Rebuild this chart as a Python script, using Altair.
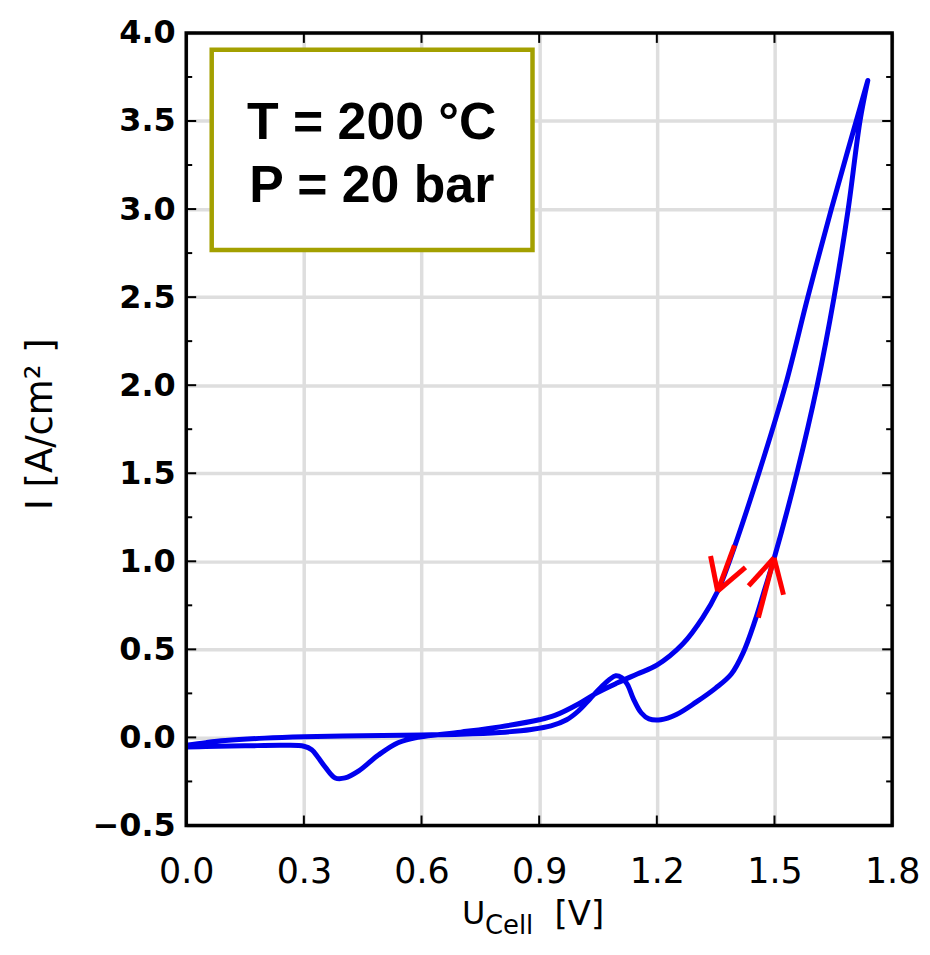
import altair as alt
import pandas as pd

# ---------------- data ----------------
x_ticks = [0.0, 0.3, 0.6, 0.9, 1.2, 1.5, 1.8]
y_ticks = [-0.5, 0.0, 0.5, 1.0, 1.5, 2.0, 2.5, 3.0, 3.5, 4.0]
y_minor = [-0.25, 0.25, 0.75, 1.25, 1.75, 2.25, 2.75, 3.25, 3.75]

# anodic (forward) sweep
up_u = [0.00, 0.05, 0.10, 0.20, 0.30, 0.45, 0.60, 0.70, 0.80, 0.88, 0.93, 0.97,
        1.00, 1.03, 1.06, 1.08, 1.095, 1.11, 1.125, 1.14, 1.16, 1.18, 1.21, 1.25,
        1.30, 1.35, 1.39, 1.42, 1.45, 1.475, 1.497, 1.557, 1.609, 1.652, 1.688,
        1.718, 1.738]
up_i = [-0.045, -0.03, -0.018, -0.004, 0.004, 0.010, 0.014, 0.018, 0.028, 0.045,
        0.065, 0.10, 0.15, 0.22, 0.29, 0.33, 0.35, 0.34, 0.30, 0.22, 0.14, 0.105,
        0.10, 0.13, 0.20, 0.28, 0.36, 0.48, 0.66, 0.84, 1.00, 1.50, 2.00, 2.50,
        3.00, 3.50, 3.73]

# cathodic (backward) sweep
down_u = [1.738, 1.645, 1.585, 1.528, 1.460, 1.385, 1.355, 1.317, 1.266, 1.20,
          1.15, 1.10, 1.045, 1.00, 0.94, 0.90, 0.80, 0.70, 0.59, 0.54, 0.49,
          0.44, 0.405, 0.38, 0.355, 0.335, 0.32, 0.30, 0.25, 0.15, 0.05, 0.0]
down_i = [3.73, 3.00, 2.50, 2.00, 1.50, 1.00, 0.83, 0.68, 0.53, 0.41, 0.36,
          0.31, 0.25, 0.19, 0.125, 0.10, 0.06, 0.03, 0.0, -0.03, -0.10, -0.19,
          -0.23, -0.23, -0.17, -0.11, -0.07, -0.05, -0.045, -0.048, -0.052, -0.055]

# red sweep-direction arrows (segments: shaft + two arms each)
arrow_seg = ["a1", "a1", "a2", "a2", "a3", "a3", "b1", "b1", "b2", "b2", "b3", "b3"]
arrow_u = [1.398, 1.355, 1.337, 1.355, 1.426, 1.355,
           1.459, 1.499, 1.434, 1.499, 1.523, 1.499]
arrow_i = [1.09, 0.83, 1.03, 0.83, 0.965, 0.83,
           0.68, 1.02, 0.86, 1.02, 0.81, 1.02]

# annotation box (data coordinates)
box_u = [0.065, 0.883]
box_i = [3.905, 2.768]
label_lines = ["T = 200 °C", "P = 20 bar"]
label_u = [0.473, 0.473]
label_i = [3.40, 3.04]

# ---------------- tables ----------------
curve = pd.DataFrame({
    "u": up_u + down_u,
    "i": up_i + down_i,
    "k": list(range(len(up_u) + len(down_u))),
})
arrows = pd.DataFrame({"u": arrow_u, "i": arrow_i, "seg": arrow_seg,
                       "k": list(range(len(arrow_u)))})
box = pd.DataFrame({"u": [box_u[0]], "u2": [box_u[1]], "i": [box_i[0]], "i2": [box_i[1]]})
labels = pd.DataFrame({"u": label_u, "i": label_i, "t": label_lines})
xt = pd.DataFrame({"u": x_ticks})
yt = pd.DataFrame({"i": y_ticks})
ym = pd.DataFrame({"i": y_minor})
one = pd.DataFrame({"a": [0]})

W, H = 709, 796
MAJ, MIN = 10, 6
BLUE = "#0000ee"
RED = "#ff0000"

xs = alt.Scale(domain=[0, 1.8], nice=False, zero=False)
ys = alt.Scale(domain=[-0.5, 4.0], nice=False, zero=False)

xaxis = alt.Axis(values=x_ticks, format=".1f", title=None, grid=True,
                 gridColor="#dedede", gridWidth=3.5, domain=False, ticks=False,
                 tickSize=0, labelFont="DejaVu Sans", labelFontSize=35,
                 labelColor="black", labelPadding=29, labelFlush=False)
yaxis = alt.Axis(values=y_ticks, format=".1f", title=None, grid=True,
                 gridColor="#dedede", gridWidth=3.5, domain=False, ticks=False,
                 tickSize=0, labelFont="DejaVu Sans", labelFontSize=32,
                 labelFontWeight="bold", labelColor="black", labelPadding=11,
                 labelFlush=False)


def X(field="u"):
    return alt.X(f"{field}:Q", scale=xs, axis=xaxis)


def Y(field="i"):
    return alt.Y(f"{field}:Q", scale=ys, axis=yaxis)


line = alt.Chart(curve).mark_line(
    color=BLUE, strokeWidth=5, strokeJoin="round", interpolate="catmull-rom"
).encode(x=X(), y=Y(), order="k:Q")

arrow_layer = alt.Chart(arrows).mark_line(color=RED, strokeWidth=5, strokeCap="butt").encode(
    x=X(), y=Y(), detail="seg:N", order="k:Q",
)

box_layer = alt.Chart(box).mark_rect(fill="white", stroke="#a3a000", strokeWidth=4.5).encode(
    x=X(), x2="u2:Q", y=Y(), y2="i2:Q",
)

label_layer = alt.Chart(labels).mark_text(
    font="Liberation Sans", fontSize=52, fontWeight="bold", color="black",
    align="center", baseline="alphabetic"
).encode(x=X(), y=Y(), text="t:N")

frame = alt.Chart(one).mark_rect(filled=False, stroke="black", strokeWidth=3.5).encode(
    x=alt.value(0), x2=alt.value(W), y=alt.value(0), y2=alt.value(H)
)

tick_bottom = alt.Chart(xt).mark_rule(color="black", strokeWidth=2).encode(
    x=X(), y=alt.value(H - MAJ), y2=alt.value(H))
tick_top = alt.Chart(xt).mark_rule(color="black", strokeWidth=2).encode(
    x=X(), y=alt.value(0), y2=alt.value(MAJ))
tick_left = alt.Chart(yt).mark_rule(color="black", strokeWidth=2).encode(
    y=Y(), x=alt.value(0), x2=alt.value(MAJ))
tick_right = alt.Chart(yt).mark_rule(color="black", strokeWidth=2).encode(
    y=Y(), x=alt.value(W - MAJ), x2=alt.value(W))
mtick_left = alt.Chart(ym).mark_rule(color="black", strokeWidth=2).encode(
    y=Y(), x=alt.value(0), x2=alt.value(MIN))
mtick_right = alt.Chart(ym).mark_rule(color="black", strokeWidth=2).encode(
    y=Y(), x=alt.value(W - MIN), x2=alt.value(W))

# axis titles
ytitle = alt.Chart(one).mark_text(
    text="I [A/cm² ]", font="DejaVu Sans", fontSize=37, angle=270,
    align="center", baseline="middle", color="black"
).encode(x=alt.value(-146), y=alt.value(393))
xt_u = alt.Chart(one).mark_text(
    text="U", font="DejaVu Sans", fontSize=32, align="left",
    baseline="alphabetic", color="black"
).encode(x=alt.value(277), y=alt.value(895))
xt_cell = alt.Chart(one).mark_text(
    text="Cell", font="DejaVu Sans", fontSize=26, align="left",
    baseline="alphabetic", color="black"
).encode(x=alt.value(300), y=alt.value(905))
xt_v = alt.Chart(one).mark_text(
    text="[V]", font="DejaVu Sans", fontSize=34, align="left",
    baseline="alphabetic", color="black"
).encode(x=alt.value(370), y=alt.value(896))

chart = alt.layer(
    line, arrow_layer, box_layer, label_layer, frame,
    tick_bottom, tick_top, tick_left, tick_right, mtick_left, mtick_right,
    ytitle, xt_u, xt_cell, xt_v,
).properties(
    width=W, height=H,
    padding={"left": 179, "top": 23, "right": 30, "bottom": 116},
    autosize=alt.AutoSizeParams(type="none"),
    background="white",
).configure_view(stroke=None)

chart.save("out.html", embed_options={"renderer": "svg", "actions": False})
